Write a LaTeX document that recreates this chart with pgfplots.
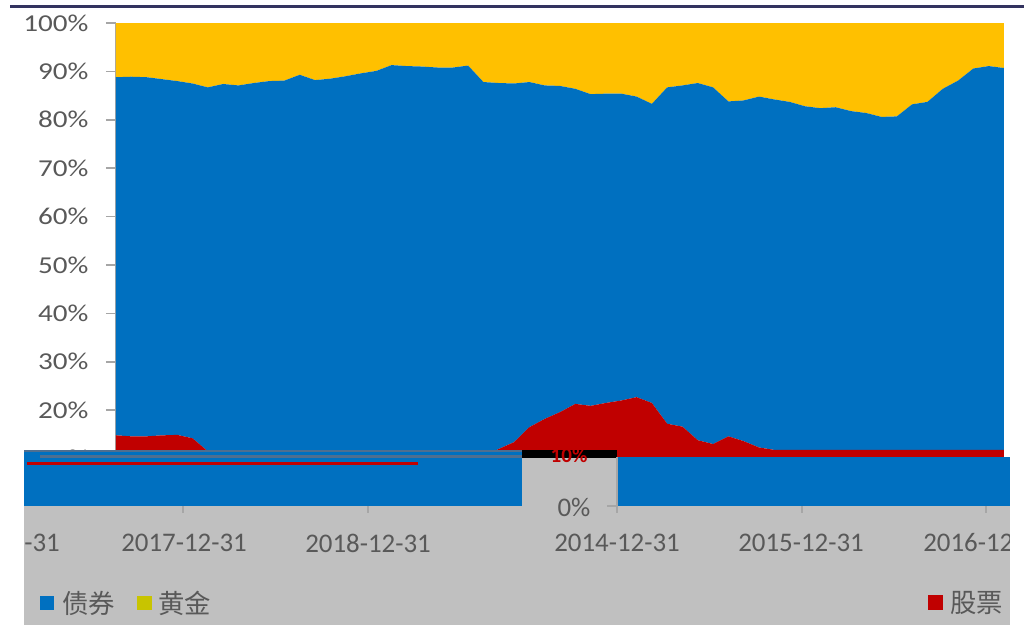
\documentclass[border=0pt]{standalone}
\usepackage{pgfplots}
\pgfplotsset{compat=1.18}
\usepackage{pgfplotstable}
\usepackage{fontspec}
\setmainfont{Carlito}
\newfontfamily\cjk{Noto Sans CJK SC}

\definecolor{bondblue}{HTML}{0070C0}
\definecolor{stockred}{HTML}{C00000}
\definecolor{goldyellow}{HTML}{FFC000}
\definecolor{legyellow}{HTML}{C8C400}
\definecolor{bandgray}{HTML}{C0C0C0}
\definecolor{axisgray}{HTML}{A6A6A6}
\definecolor{txtgray}{HTML}{595959}
\definecolor{navy}{HTML}{33335F}
\definecolor{slate}{HTML}{4F6F90}

% idx = month index (0 = first month), values in %
\pgfplotstableread{
idx stock bond gold
0  14.8 74.0 11.2
1  14.6 74.3 11.1
2  14.6 74.2 11.2
3  14.8 73.6 11.6
4  14.9 73.1 12.0
5  14.2 73.3 12.5
6  11.5 75.2 13.3
7  10.0 77.4 12.6
8  10.0 77.1 12.9
9  10.0 77.6 12.4
10 10.0 78.0 12.0
11 10.0 78.1 11.9
12 10.0 79.3 10.7
13 10.0 78.2 11.8
14 10.0 78.5 11.5
15 10.0 79.0 11.0
16 10.0 79.6 10.4
17 10.0 80.1  9.9
18 10.0 81.3  8.7
19 10.0 81.1  8.9
20 10.0 81.0  9.0
21 10.0 80.8  9.2
22 10.0 80.8  9.2
23 10.0 81.2  8.8
24 10.5 77.3 12.2
25 12.0 75.6 12.4
26 13.4 74.1 12.5
27 16.5 71.3 12.2
28 18.2 68.9 12.9
29 19.6 67.4 13.0
30 21.3 65.1 13.6
31 20.9 64.4 14.7
32 21.5 63.9 14.6
33 22.0 63.4 14.6
34 22.7 62.1 15.2
35 21.5 61.8 16.7
36 17.2 69.5 13.3
37 16.6 70.5 12.9
38 13.8 73.8 12.4
39 13.0 73.7 13.3
40 14.6 69.2 16.2
41 13.6 70.4 16.0
42 12.3 72.5 15.2
43 11.8 72.4 15.8
44 11.8 71.9 16.3
45 11.8 71.0 17.2
46 11.8 70.6 17.6
47 11.8 70.8 17.4
48 11.8 70.0 18.2
49 11.8 69.6 18.6
50 11.8 68.8 19.4
51 11.8 68.9 19.3
52 11.8 71.4 16.8
53 11.8 71.9 16.3
54 11.8 74.6 13.6
55 11.8 76.3 11.9
56 11.8 78.8  9.4
57 11.8 79.3  8.9
58 11.8 78.9  9.3
}\data

% filled box in pixel coordinates of the overlay axis
\newcommand{\pxbox}[5]{\addplot[fill=#1, draw=none] coordinates {(#2,#3) (#4,#3) (#4,#5) (#2,#5)};}

\begin{document}
\begin{tikzpicture}
\useasboundingbox (0,0) rectangle (20.48cm,12.6cm);

% main 100% stacked area chart
\begin{axis}[
    scale only axis,
    width=17.76cm, height=9.68cm,
    at={(2.32cm,2.46cm)}, anchor=south west,
    xmin=0, xmax=58, ymin=0, ymax=100,
    stack plots=y,
    axis x line=none,
    axis y line*=left,
    xtick=\empty,
    ytick={0,10,...,100},
    yticklabel={\pgfmathprintnumber{\tick}\%},
    /pgf/number format/assume math mode=true,
    tick align=outside,
    major tick length=0.2cm,
    ytick style={draw=axisgray, line width=0.9pt},
    y axis line style={draw=axisgray, line width=1.2pt},
    yticklabel style={font=\fontsize{13.8}{14}\selectfont, text=txtgray, xscale=1.2, xshift=-0.17cm},
]
\addplot[fill=stockred, draw=none] table[x=idx, y=stock] {\data} \closedcycle;
\addplot[fill=bondblue, draw=none] table[x=idx, y=bond] {\data} \closedcycle;
\addplot[fill=goldyellow, draw=none] table[x=idx, y=gold] {\data} \closedcycle;
\end{axis}

% lower band, in pixel coordinates
\begin{axis}[
    scale only axis,
    width=20.48cm, height=12.6cm,
    at={(0,0)}, anchor=south west,
    xmin=0, xmax=1024, ymin=0, ymax=630,
    y dir=reverse,
    hide axis, clip=false,
]
\pxbox{navy}{10}{5}{1024}{7.5}
\pxbox{bondblue}{24}{450}{522}{506}
\pxbox{slate}{24}{450}{522}{452}
\pxbox{slate}{40}{455}{522}{457.5}
\pxbox{stockred}{27}{462}{418}{465}
\pxbox{black}{522}{450}{617}{458}
\pxbox{bandgray}{522}{458}{617}{506}
\pxbox{bondblue}{617}{457}{1010}{506}
\pxbox{bandgray}{24}{506}{1010}{625}
\addplot[draw=axisgray, line width=1pt] coordinates {(617,457) (617,513)};
\addplot[draw=axisgray, line width=1pt] coordinates {(607,506) (617,506)};
\addplot[draw=axisgray, line width=1pt] coordinates {(183,506) (183,513)};
\addplot[draw=axisgray, line width=1pt] coordinates {(368,506) (368,513)};
\addplot[draw=axisgray, line width=1pt] coordinates {(802,506) (802,513)};
\addplot[draw=axisgray, line width=1pt] coordinates {(986,506) (986,513)};

\node[text=stockred, font=\fontsize{12}{12}\selectfont\bfseries] at (axis cs:569,455) {10\%};
\node[text=txtgray, font=\fontsize{15.3}{17}\selectfont] at (axis cs:574,507) {0\%};

\node[text=txtgray, font=\fontsize{15.3}{17}\selectfont, anchor=east] at (axis cs:66,543) {2-31};
\node[text=txtgray, font=\fontsize{15.3}{17}\selectfont] at (axis cs:184,543) {2017-12-31};
\node[text=txtgray, font=\fontsize{15.3}{17}\selectfont] at (axis cs:368,543) {2018-12-31};
\node[text=txtgray, font=\fontsize{15.3}{17}\selectfont] at (axis cs:617,543) {2014-12-31};
\node[text=txtgray, font=\fontsize{15.3}{17}\selectfont] at (axis cs:801,543) {2015-12-31};
\node[text=txtgray, font=\fontsize{15.3}{17}\selectfont, anchor=west, inner sep=0pt] at (axis cs:923,543) {2016-12};
% the band's edges cut the outer labels
\pxbox{white}{0}{520}{24}{565}
\pxbox{white}{1010}{520}{1024}{565}

% legend
\pxbox{bondblue}{40}{596}{54}{610}
\pxbox{legyellow}{137}{596}{152}{610}
\pxbox{stockred}{928}{595}{943}{610}
\node[text=txtgray, font=\cjk\fontsize{15}{16}\selectfont, anchor=west, inner sep=0pt] at (axis cs:62,603) {债券};
\node[text=txtgray, font=\cjk\fontsize{15}{16}\selectfont, anchor=west, inner sep=0pt] at (axis cs:158,603) {黄金};
\node[text=txtgray, font=\cjk\fontsize{15}{16}\selectfont, anchor=west, inner sep=0pt] at (axis cs:950,603) {股票};
\end{axis}
\end{tikzpicture}
\end{document}
